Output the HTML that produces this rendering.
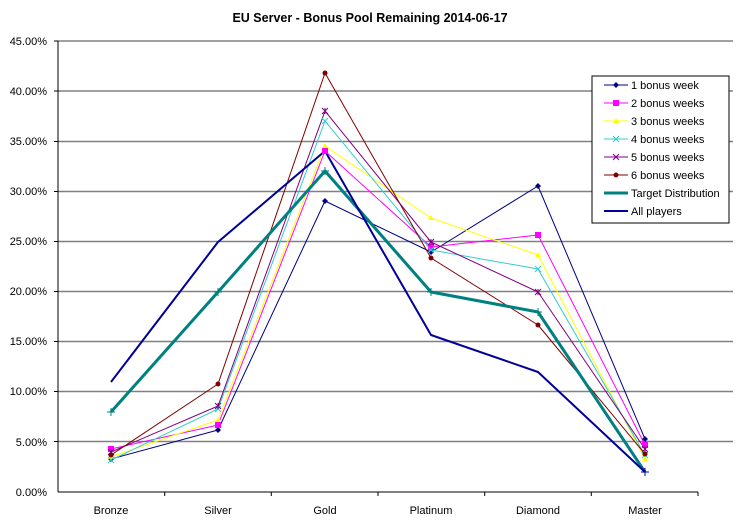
<!DOCTYPE html>
<html><head><style>body{margin:0;background:#fff}svg{display:block}text{font-family:"Liberation Sans",Arial,sans-serif;font-size:11px;fill:#000}</style></head>
<body>
<svg width="736" height="529" viewBox="0 0 736 529">
<text x="370" y="22" text-anchor="middle" style="font-size:12.5px;font-weight:bold">EU Server - Bonus Pool Remaining 2014-06-17</text>
<g stroke="#808080" stroke-width="1.5">
<line x1="58" y1="41" x2="733" y2="41"/><line x1="58" y1="91" x2="733" y2="91"/><line x1="58" y1="141.5" x2="733" y2="141.5"/><line x1="58" y1="191.5" x2="733" y2="191.5"/><line x1="58" y1="241.5" x2="733" y2="241.5"/><line x1="58" y1="291.5" x2="733" y2="291.5"/><line x1="58" y1="341.5" x2="733" y2="341.5"/><line x1="58" y1="391.5" x2="733" y2="391.5"/><line x1="58" y1="441.5" x2="733" y2="441.5"/>
</g>
<g stroke="#000" stroke-width="1">
<line x1="58" y1="41" x2="58" y2="492"/><line x1="58" y1="492" x2="698" y2="492"/>
<line x1="164.7" y1="492" x2="164.7" y2="496"/><line x1="271.3" y1="492" x2="271.3" y2="496"/><line x1="378" y1="492" x2="378" y2="496"/><line x1="484.7" y1="492" x2="484.7" y2="496"/><line x1="591.3" y1="492" x2="591.3" y2="496"/><line x1="698" y1="492" x2="698" y2="496"/>
<line x1="54" y1="41" x2="58" y2="41"/><line x1="54" y1="91" x2="58" y2="91"/><line x1="54" y1="141.5" x2="58" y2="141.5"/><line x1="54" y1="191.5" x2="58" y2="191.5"/><line x1="54" y1="241.5" x2="58" y2="241.5"/><line x1="54" y1="291.5" x2="58" y2="291.5"/><line x1="54" y1="341.5" x2="58" y2="341.5"/><line x1="54" y1="391.5" x2="58" y2="391.5"/><line x1="54" y1="441.5" x2="58" y2="441.5"/>
</g>
<g text-anchor="end">
<text x="47" y="45">45.00%</text><text x="47" y="95">40.00%</text><text x="47" y="145">35.00%</text><text x="47" y="195">30.00%</text><text x="47" y="245">25.00%</text><text x="47" y="295">20.00%</text><text x="47" y="345">15.00%</text><text x="47" y="395">10.00%</text><text x="47" y="446">5.00%</text><text x="47" y="496">0.00%</text>
</g>
<g text-anchor="middle">
<text x="111" y="514">Bronze</text><text x="218" y="514">Silver</text><text x="325" y="514">Gold</text><text x="431" y="514">Platinum</text><text x="538" y="514">Diamond</text><text x="645" y="514">Master</text>
</g>
<g fill="none" stroke-linejoin="round">
<polyline stroke="#000080" points="111,459 218,430 325,201 431,252 538,186 645,439"/>
<polyline stroke="#ff00ff" points="111,449 218,425 325,151 431,247 538,235 645,445"/>
<polyline stroke="#ffff00" points="111,457 218,420 325,146 431,218 538,255 645,459"/>
<polyline stroke="#33cccc" points="111,460 218,409 325,121 431,250 538,269 645,455"/>
<polyline stroke="#800080" points="111,452 218,406 325,111 431,242 538,292 645,449"/>
<polyline stroke="#800000" points="111,455 218,384 325,73 431,258 538,325 645,454"/>
<polyline stroke="#008080" stroke-width="3" points="111,412 218,292 325,171 431,292 538,312 645,472"/>
<polyline stroke="#000099" stroke-width="2" points="111,382 218,242 325,151 431,335 538,372 645,472"/>
</g>
<g fill="#000080"><path d="M111,456l3,3-3,3-3-3zM218,427l3,3-3,3-3-3zM325,198l3,3-3,3-3-3zM431,249l3,3-3,3-3-3zM538,183l3,3-3,3-3-3zM645,436l3,3-3,3-3-3z"/></g>
<g fill="#ff00ff"><rect x="108" y="446" width="6" height="6"/><rect x="215" y="422" width="6" height="6"/><rect x="322" y="148" width="6" height="6"/><rect x="428" y="244" width="6" height="6"/><rect x="535" y="232" width="6" height="6"/><rect x="642" y="442" width="6" height="6"/></g>
<g fill="#ffff00"><path d="M111,454l3,5h-6zM218,417l3,5h-6zM325,143l3,5h-6zM431,215l3,5h-6zM538,252l3,5h-6zM645,456l3,5h-6z"/></g>
<g stroke="#33cccc"><path d="M108,457l6,6M114,457l-6,6M215,406l6,6M221,406l-6,6M322,118l6,6M328,118l-6,6M428,247l6,6M434,247l-6,6M535,266l6,6M541,266l-6,6M642,452l6,6M648,452l-6,6"/></g>
<g stroke="#800080"><path d="M108,449l6,6M114,449l-6,6M111,449v6M215,403l6,6M221,403l-6,6M218,403v6M322,108l6,6M328,108l-6,6M325,108v6M428,239l6,6M434,239l-6,6M431,239v6M535,289l6,6M541,289l-6,6M538,289v6M642,446l6,6M648,446l-6,6M645,446v6"/></g>
<g fill="#800000"><circle cx="111" cy="455" r="2.5"/><circle cx="218" cy="384" r="2.5"/><circle cx="325" cy="73" r="2.5"/><circle cx="431" cy="258" r="2.5"/><circle cx="538" cy="325" r="2.5"/><circle cx="645" cy="454" r="2.5"/></g>
<g stroke="#008080" stroke-width="1"><path d="M107,412h8M111,408v8M214,292h8M218,288v8M321,171h8M325,167v8M427,292h8M431,288v8M534,312h8M538,308v8M641,472h8M645,468v8"/></g>
<g stroke="#000099" stroke-width="1"><path d="M641,472h8M645,468v8"/></g>
<rect x="592" y="76" width="137" height="147" fill="#fff" stroke="#000"/>
<g>
<line x1="604" y1="85" x2="628" y2="85" stroke="#000080"/><path d="M616,82l3,3-3,3-3-3z" fill="#000080"/><text x="631" y="89">1 bonus week</text>
<line x1="604" y1="103" x2="628" y2="103" stroke="#ff00ff"/><rect x="613" y="100" width="6" height="6" fill="#ff00ff"/><text x="631" y="107">2 bonus weeks</text>
<line x1="604" y1="121" x2="628" y2="121" stroke="#ffff00"/><path d="M616,118l3,5h-6z" fill="#ffff00"/><text x="631" y="125">3 bonus weeks</text>
<line x1="604" y1="139" x2="628" y2="139" stroke="#33cccc"/><path d="M613,136l6,6M619,136l-6,6" stroke="#33cccc"/><text x="631" y="143">4 bonus weeks</text>
<line x1="604" y1="157" x2="628" y2="157" stroke="#800080"/><path d="M613,154l6,6M619,154l-6,6" stroke="#800080"/><text x="631" y="161">5 bonus weeks</text>
<line x1="604" y1="175" x2="628" y2="175" stroke="#800000"/><circle cx="616" cy="175" r="2.5" fill="#800000"/><text x="631" y="179">6 bonus weeks</text>
<line x1="604" y1="193" x2="628" y2="193" stroke="#008080" stroke-width="3"/><text x="631" y="197">Target Distribution</text>
<line x1="604" y1="211" x2="628" y2="211" stroke="#000099" stroke-width="2"/><text x="631" y="215">All players</text>
</g>
</svg>
</body></html>
